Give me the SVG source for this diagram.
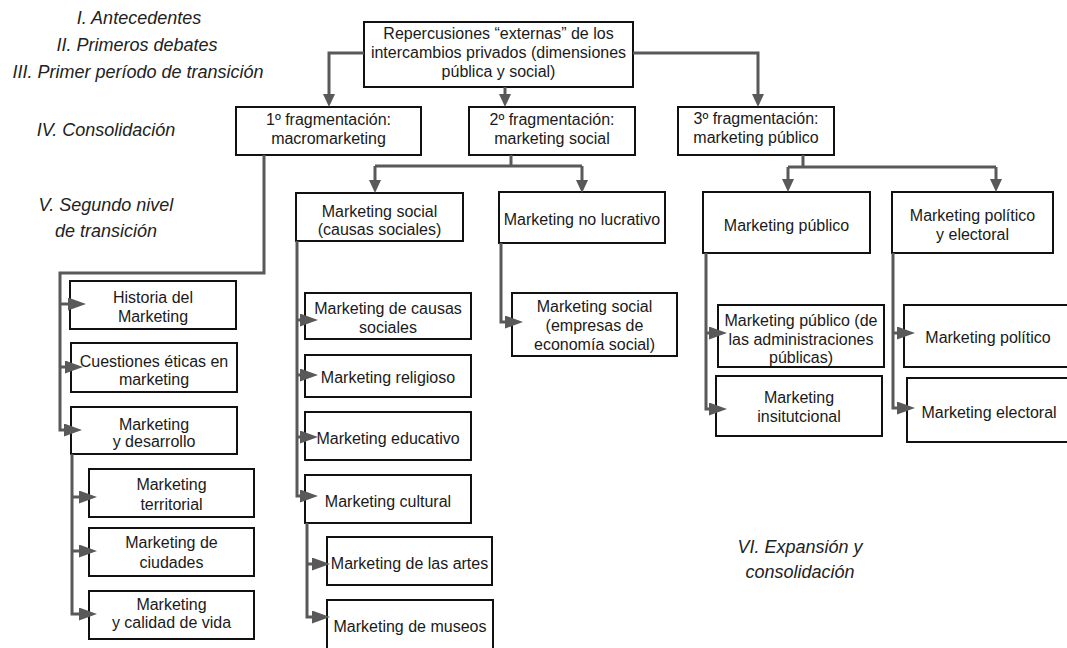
<svg xmlns="http://www.w3.org/2000/svg" width="1067" height="648" viewBox="0 0 1067 648">
  <defs>
    <style>
      .box { fill: #ffffff; stroke: #111111; stroke-width: 2; }
      .t { font-family: "Liberation Sans", Arial, Helvetica, sans-serif; font-size: 16px; fill: #1a1a1a; text-anchor: middle; }
      .lbl { font-family: "Liberation Sans", Arial, Helvetica, sans-serif; font-size: 18px; font-style: italic; fill: #222222; text-anchor: middle; }
      .c { fill: none; stroke: #595959; stroke-width: 3; stroke-linejoin: miter; }
      .cd { marker-end: url(#ah-down); }
      .cs { marker-end: url(#ah-side); }
    </style>
    <!-- downward arrowhead: tip sits 8px past the path end -->
    <marker id="ah-down" viewBox="0 0 13 12" refX="5" refY="6" markerWidth="13" markerHeight="12" markerUnits="userSpaceOnUse" orient="auto">
      <path d="M0,0 L13,6 L0,12 Z" fill="#595959"/>
    </marker>
    <!-- sideways arrowhead: tip sits 10px past the path end -->
    <marker id="ah-side" viewBox="0 0 18 13" refX="8" refY="6.5" markerWidth="18" markerHeight="13" markerUnits="userSpaceOnUse" orient="auto">
      <path d="M0,0 L18,6.5 L0,13 Z" fill="#595959"/>
    </marker>
  </defs>

  <rect width="1067" height="648" fill="#ffffff"/>

  <!-- period labels -->
  <g id="labels">
    <text class="lbl" x="139" y="24">I. Antecedentes</text>
    <text class="lbl" x="137" y="51">II. Primeros debates</text>
    <text class="lbl" x="138" y="78">III. Primer período de transición</text>
    <text class="lbl" x="106" y="136">IV. Consolidación</text>
    <text class="lbl" x="106" y="211">V. Segundo nivel</text>
    <text class="lbl" x="106" y="237">de transición</text>
    <text class="lbl" x="800" y="553">VI. Expansión y</text>
    <text class="lbl" x="800" y="578">consolidación</text>
  </g>

  <!-- nodes -->
  <g id="n-root">
    <rect class="box" x="364" y="22" width="269" height="65"/>
    <text class="t" x="498.5" y="39">Repercusiones “externas” de los</text>
    <text class="t" x="498.5" y="58">intercambios privados (dimensiones</text>
    <text class="t" x="498.5" y="77">pública y social)</text>
  </g>

  <g id="n-frag1">
    <rect class="box" x="236" y="107" width="185" height="48"/>
    <text class="t" x="328.5" y="125">1º fragmentación:</text>
    <text class="t" x="328.5" y="144">macromarketing</text>
  </g>
  <g id="n-frag2">
    <rect class="box" x="469" y="107" width="166" height="48"/>
    <text class="t" x="552" y="125">2º fragmentación:</text>
    <text class="t" x="552" y="144">marketing social</text>
  </g>
  <g id="n-frag3">
    <rect class="box" x="678" y="107" width="156" height="48"/>
    <text class="t" x="756" y="124">3º fragmentación:</text>
    <text class="t" x="756" y="143">marketing público</text>
  </g>

  <!-- macromarketing branch -->
  <g id="n-historia">
    <rect class="box" x="70" y="281" width="166" height="48"/>
    <text class="t" x="153" y="303">Historia del</text>
    <text class="t" x="153" y="322">Marketing</text>
  </g>
  <g id="n-etica">
    <rect class="box" x="71" y="343" width="166" height="49"/>
    <text class="t" x="154" y="367">Cuestiones éticas en</text>
    <text class="t" x="154" y="385">marketing</text>
  </g>
  <g id="n-desarrollo">
    <rect class="box" x="71" y="407" width="166" height="47"/>
    <text class="t" x="154" y="430">Marketing</text>
    <text class="t" x="154" y="447">y desarrollo</text>
  </g>
  <g id="n-territorial">
    <rect class="box" x="89" y="469" width="165" height="48"/>
    <text class="t" x="171.5" y="490">Marketing</text>
    <text class="t" x="171.5" y="510">territorial</text>
  </g>
  <g id="n-ciudades">
    <rect class="box" x="89" y="528" width="165" height="48"/>
    <text class="t" x="171.5" y="548">Marketing de</text>
    <text class="t" x="171.5" y="568">ciudades</text>
  </g>
  <g id="n-calidad">
    <rect class="box" x="89" y="591" width="165" height="48"/>
    <text class="t" x="171.5" y="610">Marketing</text>
    <text class="t" x="171.5" y="628">y calidad de vida</text>
  </g>

  <!-- social marketing branch -->
  <g id="n-social">
    <rect class="box" x="296" y="193" width="167" height="48"/>
    <text class="t" x="379.5" y="217">Marketing social</text>
    <text class="t" x="379.5" y="235">(causas sociales)</text>
  </g>
  <g id="n-causas">
    <rect class="box" x="305" y="293" width="166" height="46"/>
    <text class="t" x="388" y="314">Marketing de causas</text>
    <text class="t" x="388" y="333">sociales</text>
  </g>
  <g id="n-religioso">
    <rect class="box" x="305" y="355" width="166" height="42"/>
    <text class="t" x="388" y="383">Marketing religioso</text>
  </g>
  <g id="n-educativo">
    <rect class="box" x="305" y="412" width="166" height="48"/>
    <text class="t" x="388" y="444">Marketing educativo</text>
  </g>
  <g id="n-cultural">
    <rect class="box" x="305" y="475" width="166" height="48"/>
    <text class="t" x="388" y="507">Marketing cultural</text>
  </g>
  <g id="n-artes">
    <rect class="box" x="327" y="537" width="165" height="48"/>
    <text class="t" x="409.5" y="569">Marketing de las artes</text>
  </g>
  <g id="n-museos">
    <rect class="box" x="327" y="600" width="166" height="50"/>
    <text class="t" x="410" y="632">Marketing de museos</text>
  </g>

  <g id="n-nolucrativo">
    <rect class="box" x="499" y="192" width="166" height="51"/>
    <text class="t" x="582" y="225">Marketing no lucrativo</text>
  </g>
  <g id="n-economia">
    <rect class="box" x="512" y="293" width="165" height="63"/>
    <text class="t" x="594.5" y="312">Marketing social</text>
    <text class="t" x="594.5" y="331">(empresas de</text>
    <text class="t" x="594.5" y="350">economía social)</text>
  </g>

  <!-- public marketing branch -->
  <g id="n-publico">
    <rect class="box" x="703" y="192" width="167" height="61"/>
    <text class="t" x="786.5" y="231">Marketing público</text>
  </g>
  <g id="n-administraciones">
    <rect class="box" x="718" y="305" width="166" height="62"/>
    <text class="t" x="801" y="326">Marketing público (de</text>
    <text class="t" x="801" y="345">las administraciones</text>
    <text class="t" x="801" y="363">públicas)</text>
  </g>
  <g id="n-institucional">
    <rect class="box" x="716" y="376" width="166" height="60"/>
    <text class="t" x="799" y="403">Marketing</text>
    <text class="t" x="799" y="422">insitutcional</text>
  </g>

  <g id="n-politico-electoral">
    <rect class="box" x="892" y="192" width="161" height="61"/>
    <text class="t" x="972.5" y="221">Marketing político</text>
    <text class="t" x="972.5" y="240">y electoral</text>
  </g>
  <g id="n-politico">
    <rect class="box" x="904" y="305" width="168" height="62"/>
    <text class="t" x="988" y="343">Marketing político</text>
  </g>
  <g id="n-electoral">
    <rect class="box" x="907" y="378" width="165" height="64"/>
    <text class="t" x="989" y="418">Marketing electoral</text>
  </g>

  <!-- connectors, drawn last so the arrowheads sit over the box edges -->
  <g id="connectors">
    <path class="c cd" d="M364,53 H329 V99"/>
    <path class="c cd" d="M633,53 H758 V99"/>
    <path class="c cd" d="M505,87 V99"/>

    <path class="c cs" d="M264,155 V273 H60 V430 H72"/>
    <path class="c cs" d="M60,304 H76"/>
    <path class="c cs" d="M60,367 H73"/>

    <path class="c cs" d="M72,454 V614 H87"/>
    <path class="c cs" d="M72,497 H87"/>
    <path class="c cs" d="M72,551 H87"/>

    <path class="c" d="M511,155 V166 M375,166 H582"/>
    <path class="c cd" d="M375,166 V185"/>
    <path class="c cd" d="M582,166 V185"/>

    <path class="c cs" d="M297,241 V496 H308"/>
    <path class="c cs" d="M297,320 H308"/>
    <path class="c cs" d="M297,375 H308"/>
    <path class="c cs" d="M297,437 H308"/>

    <path class="c cs" d="M307,523 V617 H320"/>
    <path class="c cs" d="M307,564 H320"/>

    <path class="c cs" d="M501,243 V322 H513"/>

    <path class="c" d="M803,155 V167 M788,167 H996"/>
    <path class="c cd" d="M788,167 V184"/>
    <path class="c cd" d="M996,167 V184"/>

    <path class="c cs" d="M706,253 V409 H717"/>
    <path class="c cs" d="M706,333 H717"/>

    <path class="c cs" d="M893,253 V408 H905"/>
    <path class="c cs" d="M893,333 H905"/>
  </g>
</svg>
